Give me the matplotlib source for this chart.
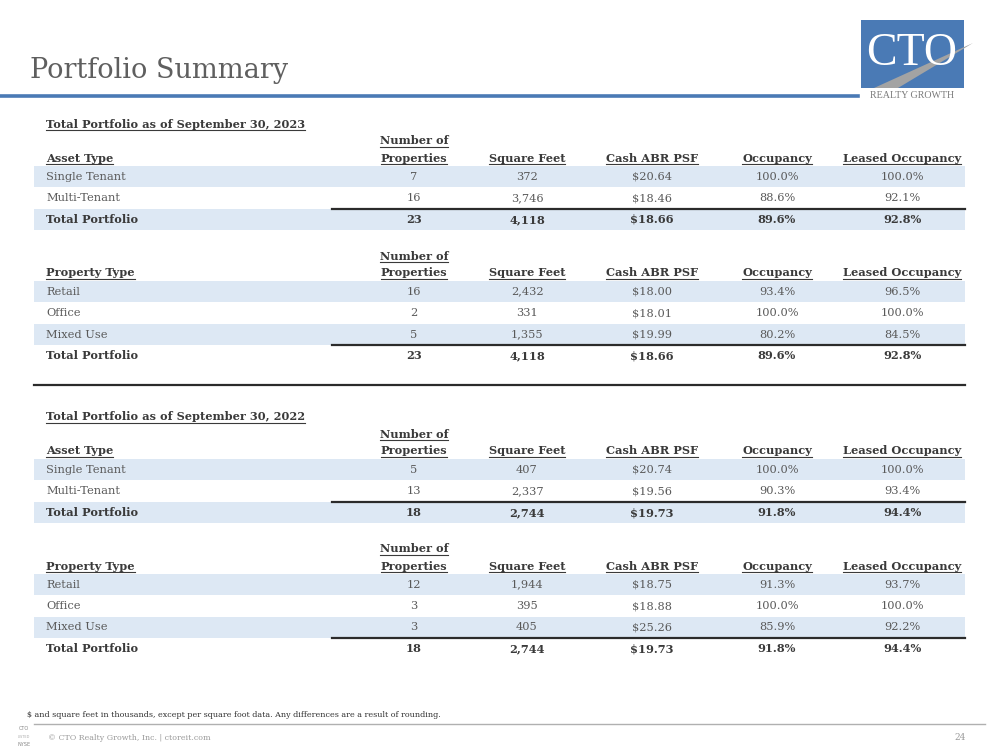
import matplotlib
matplotlib.use("Agg")
import matplotlib.pyplot as plt
from matplotlib.patches import Rectangle, Polygon

# column headers
col_heads = ["Number of\nProperties", "Square Feet", "Cash ABR PSF", "Occupancy", "Leased Occupancy"]

# 2023 by asset type
a23_labels = ["Single Tenant", "Multi-Tenant", "Total Portfolio"]
a23_props = [7, 16, 23]
a23_sqft = [372, 3746, 4118]
a23_abr = [20.64, 18.46, 18.66]
a23_occ = [100.0, 88.6, 89.6]
a23_leased = [100.0, 92.1, 92.8]

# 2023 by property type
p23_labels = ["Retail", "Office", "Mixed Use", "Total Portfolio"]
p23_props = [16, 2, 5, 23]
p23_sqft = [2432, 331, 1355, 4118]
p23_abr = [18.00, 18.01, 19.99, 18.66]
p23_occ = [93.4, 100.0, 80.2, 89.6]
p23_leased = [96.5, 100.0, 84.5, 92.8]

# 2022 by asset type
a22_labels = ["Single Tenant", "Multi-Tenant", "Total Portfolio"]
a22_props = [5, 13, 18]
a22_sqft = [407, 2337, 2744]
a22_abr = [20.74, 19.56, 19.73]
a22_occ = [100.0, 90.3, 91.8]
a22_leased = [100.0, 93.4, 94.4]

# 2022 by property type
p22_labels = ["Retail", "Office", "Mixed Use", "Total Portfolio"]
p22_props = [12, 3, 3, 18]
p22_sqft = [1944, 395, 405, 2744]
p22_abr = [18.75, 18.88, 25.26, 19.73]
p22_occ = [91.3, 100.0, 85.9, 91.8]
p22_leased = [93.7, 100.0, 92.2, 94.4]

BLUE = "#4a7ab5"
BAND = "#dde8f4"
TXT = "#595959"
DARK = "#3a3a3a"
FONT = "DejaVu Serif"
FS = 8.2

col_x = [414, 527, 652, 777, 902]
label_x = 46
row_h = 21.4

fig = plt.figure(figsize=(9.99, 7.5), dpi=100)
ax = fig.add_axes([0, 0, 1, 1])
ax.set_xlim(0, 999)
ax.set_ylim(750, 0)
ax.axis("off")

underline_me = []


def utext(x, y, s, ha="left", size=FS):
    t = ax.text(x, y, s, ha=ha, va="center", fontsize=size, fontweight="bold",
                color=DARK, family=FONT)
    underline_me.append(t)
    return t


def block(yh, first, labels, props, sqft, abr, occ, leased):
    utext(label_x, yh, first)
    utext(col_x[0], yh - 17, "Number of", ha="center")
    utext(col_x[0], yh, "Properties", ha="center")
    for x, h in zip(col_x[1:], col_heads[1:]):
        utext(x, yh, h, ha="center")
    top = yh + 8
    n = len(labels)
    for i in range(n):
        y0 = top + i * row_h
        yc = y0 + row_h / 2
        if i % 2 == 0:
            ax.add_patch(Rectangle((34, y0), 931, row_h, color=BAND, lw=0, zorder=0))
        last = i == n - 1
        wt = "bold" if last else "normal"
        col = DARK if last else TXT
        if last:
            ax.plot([332, 965], [y0, y0], color="#2b2b2b", lw=1.6, zorder=2)
        vals = [f"{props[i]}", f"{sqft[i]:,}", f"${abr[i]:.2f}",
                f"{occ[i]:.1f}%", f"{leased[i]:.1f}%"]
        ax.text(label_x, yc, labels[i], ha="left", va="center", fontsize=FS,
                fontweight=wt, color=col, family=FONT)
        for x, v in zip(col_x, vals):
            ax.text(x, yc, v, ha="center", va="center", fontsize=FS,
                    fontweight=wt, color=col, family=FONT)


# title + header rule
ax.text(30, 71, "Portfolio Summary", fontsize=19.5, color="#5f5f5f", family=FONT,
        va="center", ha="left")
ax.plot([0, 858], [95.5, 95.5], color=BLUE, lw=2.6)

# logo
ax.add_patch(Rectangle((861, 20), 103, 68, color=BLUE, lw=0))
ax.add_patch(Polygon([(874, 88), (898, 88), (973, 43)], closed=True, color="#a3a3a3", lw=0))
ax.text(912, 54, "CTO", fontsize=33, color="white", family="Liberation Serif",
        ha="center", va="center")
ax.text(912, 96, "REALTY GROWTH", fontsize=7.2, color="#7a7a7a", family="Liberation Serif",
        ha="center", va="center")

# tables
utext(label_x, 124, "Total Portfolio as of September 30, 2023")
block(158, "Asset Type", a23_labels, a23_props, a23_sqft, a23_abr, a23_occ, a23_leased)
block(273, "Property Type", p23_labels, p23_props, p23_sqft, p23_abr, p23_occ, p23_leased)
ax.plot([34, 965], [385, 385], color="#2b2b2b", lw=1.6)
utext(label_x, 417, "Total Portfolio as of September 30, 2022")
block(451, "Asset Type", a22_labels, a22_props, a22_sqft, a22_abr, a22_occ, a22_leased)
block(566, "Property Type", p22_labels, p22_props, p22_sqft, p22_abr, p22_occ, p22_leased)

# footer
ax.text(27, 715, "$ and square feet in thousands, except per square foot data. Any differences are a result of rounding.",
        fontsize=5.75, color="#333333", family=FONT, va="center")
ax.plot([34, 985], [724, 724], color="#b0b0b0", lw=1)
ax.text(48, 738, "\u00a9 CTO Realty Growth, Inc. | ctoreit.com", fontsize=5.7,
        color="#9a9a9a", family=FONT, va="center")
ax.text(24, 729, "CTO", fontsize=3.6, color="#888888", ha="center", va="center")
ax.text(24, 737, "LISTED", fontsize=2.5, color="#aaaaaa", ha="center", va="center")
ax.text(24, 744, "NYSE", fontsize=3.6, color="#888888", ha="center", va="center")
ax.text(960, 738, "24", fontsize=6.5, color="#9a9a9a", family=FONT, ha="center", va="center")

# underline the header texts
fig.canvas.draw()
r = fig.canvas.get_renderer()
for t in underline_me:
    bb = t.get_window_extent(renderer=r)
    yb = 750 - bb.y0 + 0.5
    ax.plot([bb.x0, bb.x1], [yb, yb], color=DARK, lw=0.8)

fig.savefig("out.png", dpi=100)
